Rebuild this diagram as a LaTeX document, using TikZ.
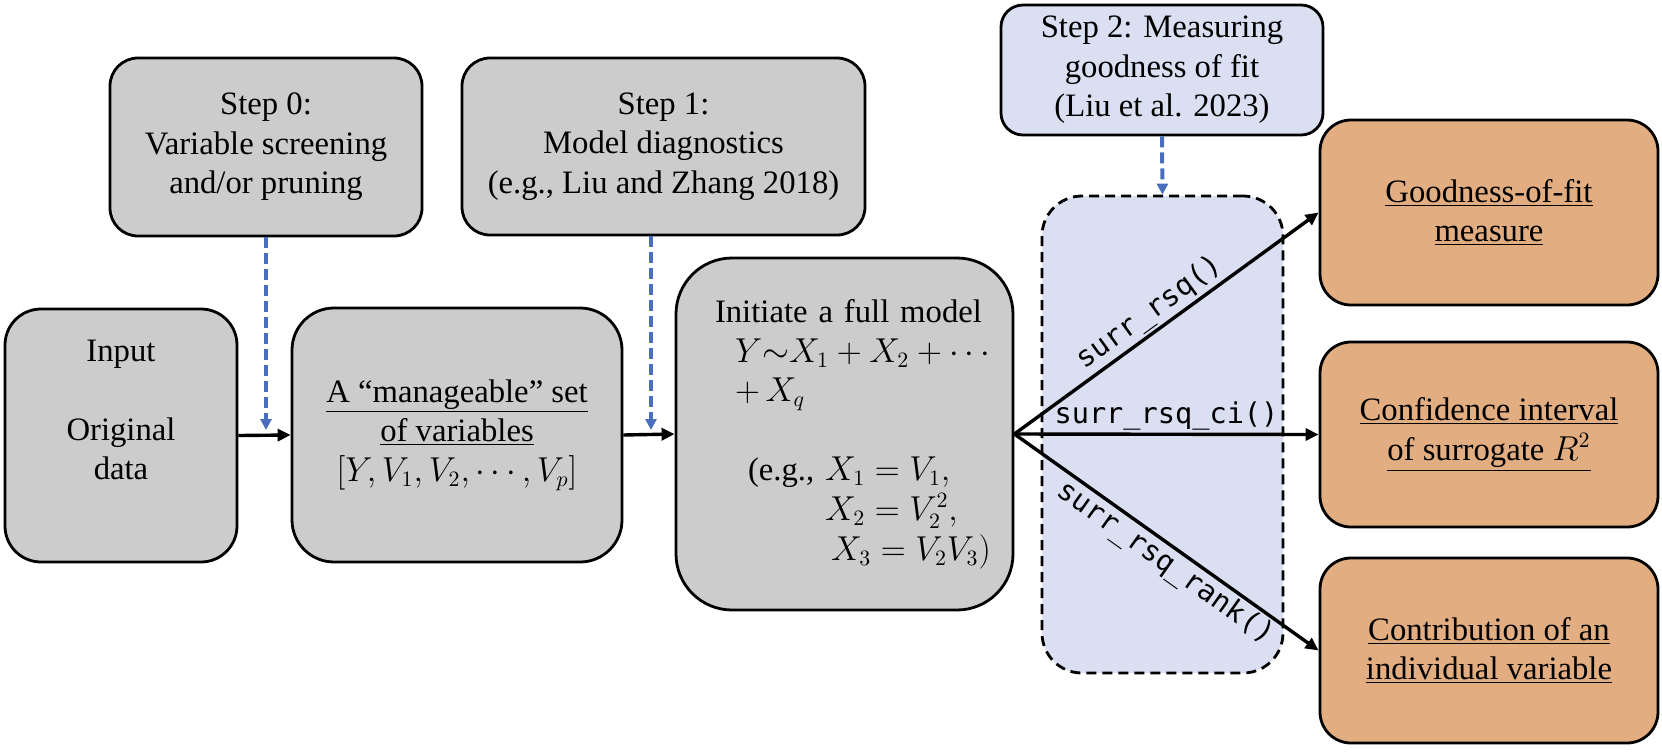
\documentclass[tikz,border=0pt]{standalone}
\usepackage{fontspec}
\setmainfont{Liberation Serif}
\newfontfamily\monof{DejaVu Sans Mono}
\usetikzlibrary{arrows.meta}
\newdimen\px \px=0.5pt
\definecolor{boxgray}{HTML}{CCCCCC}
\definecolor{lightblue}{HTML}{DADFF1}
\definecolor{boxorange}{HTML}{E1AD81}
\definecolor{dashblue}{HTML}{4A6EBE}
\begin{document}
\begin{tikzpicture}[x=0.5pt,y=-0.5pt,
  every node/.style={font=\fontsize{16.35}{19.8}\selectfont},
  box/.style={draw=black, line width=1.4pt, align=center, inner sep=0pt},
  graybox/.style={box, fill=boxgray},
  orangebox/.style={box, fill=boxorange, rounded corners=15.5pt, minimum width=338\px, minimum height=185\px},
  arr/.style={line width=1.7pt, -{Triangle[length=6.5pt,width=6pt]}},
  bluedash/.style={draw=dashblue, line width=2pt, dash pattern=on 5.5pt off 2.5pt, -{Triangle[length=5.5pt,width=5.5pt]}},
  fnlabel/.style={font=\monof\fontsize{14.3}{17}\selectfont, inner sep=1pt}
]
\useasboundingbox (0,0) rectangle (1662,751);

% container
\node[draw=black, line width=1.4pt, dash pattern=on 5pt off 3pt, fill=lightblue, rounded corners=20pt,
      minimum width=241\px, minimum height=477\px, inner sep=0pt] (container) at (1162.5,434.5) {};

% step boxes
\node[graybox, rounded corners=14pt, minimum width=312\px, minimum height=178\px] (step0) at (266,147)
  {Step 0:\\Variable screening\\and/or pruning};
\node[graybox, rounded corners=14pt, minimum width=403\px, minimum height=177\px] (step1) at (663.5,146.5)
  {Step 1:\\Model diagnostics\\(e.g., Liu and Zhang 2018)};
\node[box, fill=lightblue, rounded corners=11pt, minimum width=322\px, minimum height=130\px] (step2) at (1162,70)
  {Step 2: Measuring\\goodness of fit\\(Liu et al. 2023)};

% main row
\node[graybox, rounded corners=18pt, minimum width=232\px, minimum height=253\px] (input) at (121,435.5)
  {Input\\\strut\\Original\\data\\\strut};
\node[graybox, rounded corners=21pt, minimum width=330\px, minimum height=254\px] (manage) at (457,435)
  {\underline{A “manageable” set}\\\underline{of variables}\\$\bigl[Y,V_1,V_2,\cdots,V_p\bigr]$};
\node[graybox, rounded corners=28pt, minimum width=337\px, minimum height=352\px, text width=337\px, align=left] (full) at (844.5,434)
  {\hspace*{39\px}Initiate a full model\\
   \hspace*{59\px}$Y{\sim}X_1+X_2+\cdots$\\
   \hspace*{59\px}$+\,X_q$\\
   \strut\\
   \hspace*{72\px}(e.g., $X_1=V_1,$\\
   \hspace*{72\px}\phantom{(e.g., }$X_2=V_2^2,$\\
   \hspace*{72\px}\phantom{(e.g., }\hspace*{6\px}$X_3=V_2V_3)$};

% outputs
\node[orangebox] (good) at (1489,212.5) {\underline{Goodness-of-fit}\\\underline{measure}};
\node[orangebox] (conf) at (1489,434.5) {\underline{Confidence interval}\\\underline{of surrogate $R^2$}};
\node[orangebox] (contrib) at (1489,650.5) {\underline{Contribution of an}\\\underline{individual variable}};

% end points of the blue dashed arrows
\coordinate (s0end) at (266,430);
\coordinate (s1end) at (651,430);

% connectors
\draw[arr] (input.east) -- (manage.west);
\draw[arr] (manage.east) -- (full.west);
\draw[bluedash] (step0.south) -- (s0end);
\draw[bluedash] (s1end |- step1.south) -- (s1end);
\draw[bluedash] (step2.south) -- (container.north);

\draw[arr] (full.east) -- node[fnlabel, sloped, above, pos=0.48] (lab1) {surr\_rsq()} (good.west);
\draw[arr] (full.east) -- node[fnlabel, above, pos=0.5] (lab2) {surr\_rsq\_ci()} (conf.west);
\draw[arr] (full.east) -- node[fnlabel, sloped, below, pos=0.53] (lab3) {surr\_rsq\_rank()} (contrib.west);
\end{tikzpicture}
\end{document}
